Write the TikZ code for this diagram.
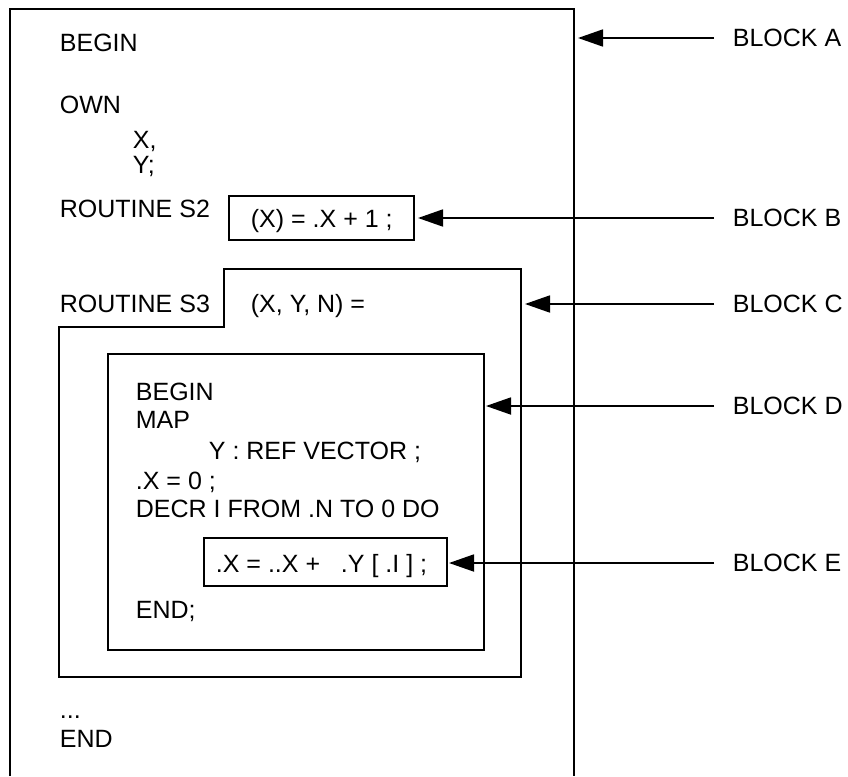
\documentclass[tikz,border=0pt]{standalone}
\usepackage{fontspec}
\setmainfont{Liberation Sans}
\usetikzlibrary{arrows.meta}
\begin{document}
\begin{tikzpicture}[x=1pt,y=-1pt, line width=1.8pt,
  txt/.style={anchor=base west, inner sep=0pt, font=\fontsize{25}{30}\selectfont},
  lbl/.style={anchor=west, inner sep=0pt, font=\fontsize{25}{30}\selectfont},
  frame/.style={draw, line width=1.8pt, inner sep=0pt, outer sep=0pt, anchor=north west},
  arr/.style={-{Triangle[length=25pt,width=17pt]}, line width=1.8pt}]
\useasboundingbox (0,0) rectangle (848,776);
% block A (open at the bottom)
\draw (10,776) -- (10,9) -- (574,9) -- (574,776);
% block B
\node[frame, minimum width=185pt, minimum height=44pt] (boxB) at (229,196) {};
% block C
\draw (224,327) -- (224,269) -- (521,269) -- (521,677) -- (59,677) -- (59,327) -- cycle;
% block D
\node[frame, minimum width=376pt, minimum height=296pt] (boxD) at (108,354) {};
% block E
\node[frame, minimum width=243pt, minimum height=48pt] (boxE) at (204,538) {};
% texts
\node[txt] (t1) at (59,52) {BEGIN};
\node[txt] (t2) at (59,113) {OWN};
\node[txt] (t3) at (132,148) {X,};
\node[txt] (t4) at (132,173) {Y;};
\node[txt] (t5) at (59,217) {ROUTINE S2};
\node[txt] (t6) at (250,227) {(X) = .X + 1 ;};
\node[txt] (t7) at (59,312) {ROUTINE S3};
\node[txt] (t8) at (250,312) {(X, Y, N) =};
\node[txt] (t9) at (135,400) {BEGIN};
\node[txt] (t10) at (135,428) {MAP};
\node[txt] (t11) at (208,459) {Y : REF VECTOR ;};
\node[txt] (t12) at (135,489) {.X = 0 ;};
\node[txt] (t13) at (135,517) {DECR I FROM .N TO 0 DO};
\node[txt] (t14) at (215,572) {.X = ..X +\ \ \ .Y [ .I ] ;};
\node[txt] (t15) at (135,618) {END;};
\node[txt] (t16) at (59,718) {...};
\node[txt] (t17) at (59,747) {END};
% labels
\node[lbl] (lA) at (732,38) {BLOCK A};
\node[lbl] (lB) at (732,218) {BLOCK B};
\node[lbl] (lC) at (732,304) {BLOCK C};
\node[lbl] (lD) at (732,406) {BLOCK D};
\node[lbl] (lE) at (732,563) {BLOCK E};
% arrow targets
\coordinate (eA) at (578,38);
\coordinate (eB) at (418,218);
\coordinate (eC) at (525,304);
\coordinate (eD) at (486,406);
\coordinate (eE) at (449,563);
\draw[arr] ([xshift=-18pt]lA.west) -- (eA);
\draw[arr] ([xshift=-18pt]lB.west) -- (eB);
\draw[arr] ([xshift=-18pt]lC.west) -- (eC);
\draw[arr] ([xshift=-18pt]lD.west) -- (eD);
\draw[arr] ([xshift=-18pt]lE.west) -- (eE);
\end{tikzpicture}
\end{document}
